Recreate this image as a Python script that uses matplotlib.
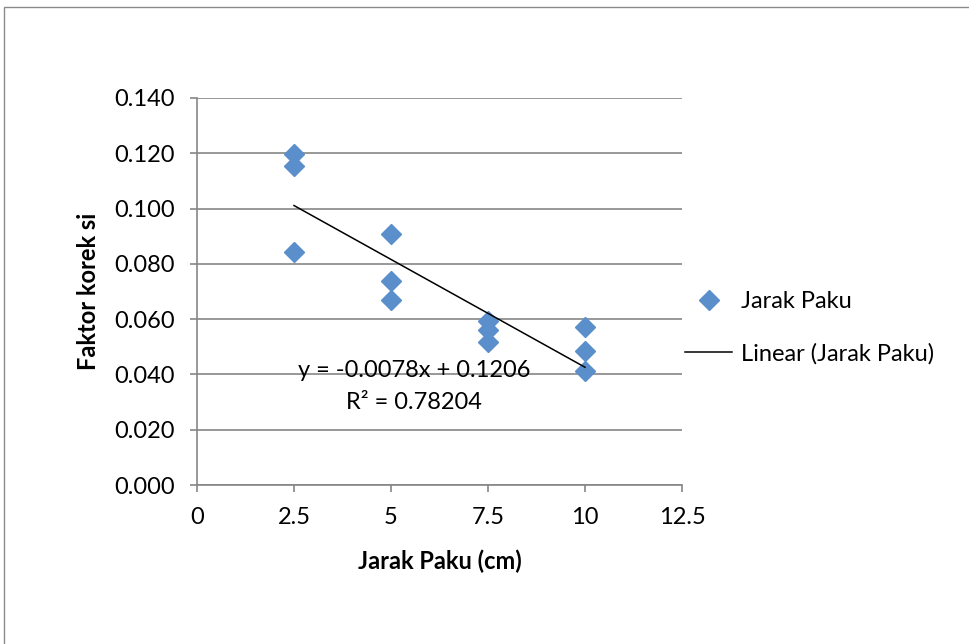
import matplotlib
matplotlib.use("Agg")
import matplotlib.pyplot as plt
from matplotlib.patches import Rectangle
import numpy as np

# Nail spacing (cm) and measured correction factor
jarak = [2.5, 2.5, 2.5, 5, 5, 5, 7.5, 7.5, 7.5, 10, 10, 10]
faktor = [0.1198, 0.1155, 0.0844,
          0.0909, 0.0737, 0.0670,
          0.0593, 0.0560, 0.0518,
          0.0572, 0.0484, 0.0411]

# Linear trendline coefficients
slope = -0.0078
intercept = 0.1206
r_squared = 0.78204

x_ticks = [0, 2.5, 5, 7.5, 10, 12.5]
x_tick_labels = ["0", "2.5", "5", "7.5", "10", "12.5"]
y_ticks = [0.0, 0.02, 0.04, 0.06, 0.08, 0.10, 0.12, 0.14]

W, H = 969, 644
plt.rcParams['font.family'] = ['Lato', 'DejaVu Sans']
fig = plt.figure(figsize=(W / 100, H / 100), dpi=100)
fig.patch.set_facecolor("white")

# outer chart border
fig.add_artist(Rectangle((4 / W, -0.05), 1.1, 1 - 7 / H + 0.05,
                         transform=fig.transFigure, fill=False,
                         edgecolor="#8a8a8a", linewidth=1.0, clip_on=False))

left, right, top, bottom = 197, 682, 98, 485
ax = fig.add_axes([left / W, 1 - bottom / H, (right - left) / W, (bottom - top) / H])

grid_col = "#868686"
marker_col = "#5B8FCC"
fs = 17

ax.set_xlim(0, 12.5)
ax.set_ylim(0, 0.14)
ax.set_xticks(x_ticks)
ax.set_xticklabels(x_tick_labels)
ax.set_yticks(y_ticks)
ax.set_yticklabels([f"{v:.3f}" for v in y_ticks])

for s in ("top", "right"):
    ax.spines[s].set_visible(False)
for s in ("left", "bottom"):
    ax.spines[s].set_color(grid_col)
    ax.spines[s].set_linewidth(1.2)

ax.yaxis.grid(True, color=grid_col, linewidth=1.2)
ax.set_axisbelow(True)
ax.tick_params(axis="both", colors=grid_col, labelcolor="black",
               labelsize=fs, length=5, width=1.2, direction="out")
ax.tick_params(axis="x", pad=11)
ax.tick_params(axis="y", pad=11)

ax.plot(jarak, faktor, linestyle="none", marker="D", markersize=10.5,
        color=marker_col, label="Jarak Paku", zorder=3)

xs = np.array([min(jarak), max(jarak)])
ax.plot(xs, slope * xs + intercept, color="black", linewidth=1.1,
        label="Linear (Jarak Paku)", zorder=4)

ax.text(5.59, 0.0416, f"y = {slope:.4f}x + {intercept:.4f}",
        ha="center", va="center", fontsize=fs, zorder=5)
ax.text(5.59, 0.0297, f"R² = {r_squared:.5f}",
        ha="center", va="center", fontsize=fs, zorder=5)

ax.set_xlabel("Jarak Paku (cm)", fontsize=fs, fontweight="bold", labelpad=15)
fig.text(88 / W, 1 - 291 / H, "Faktor korek si", rotation=90,
         ha="center", va="center", fontsize=fs, fontweight="bold")

fig.legend(loc="upper left", bbox_to_anchor=(685 / W, 1 - 291 / H),
           frameon=False, fontsize=fs, borderpad=0, borderaxespad=0,
           handlelength=2.0, handletextpad=0.36, labelspacing=1.3)

fig.savefig("out.png", dpi=100)
